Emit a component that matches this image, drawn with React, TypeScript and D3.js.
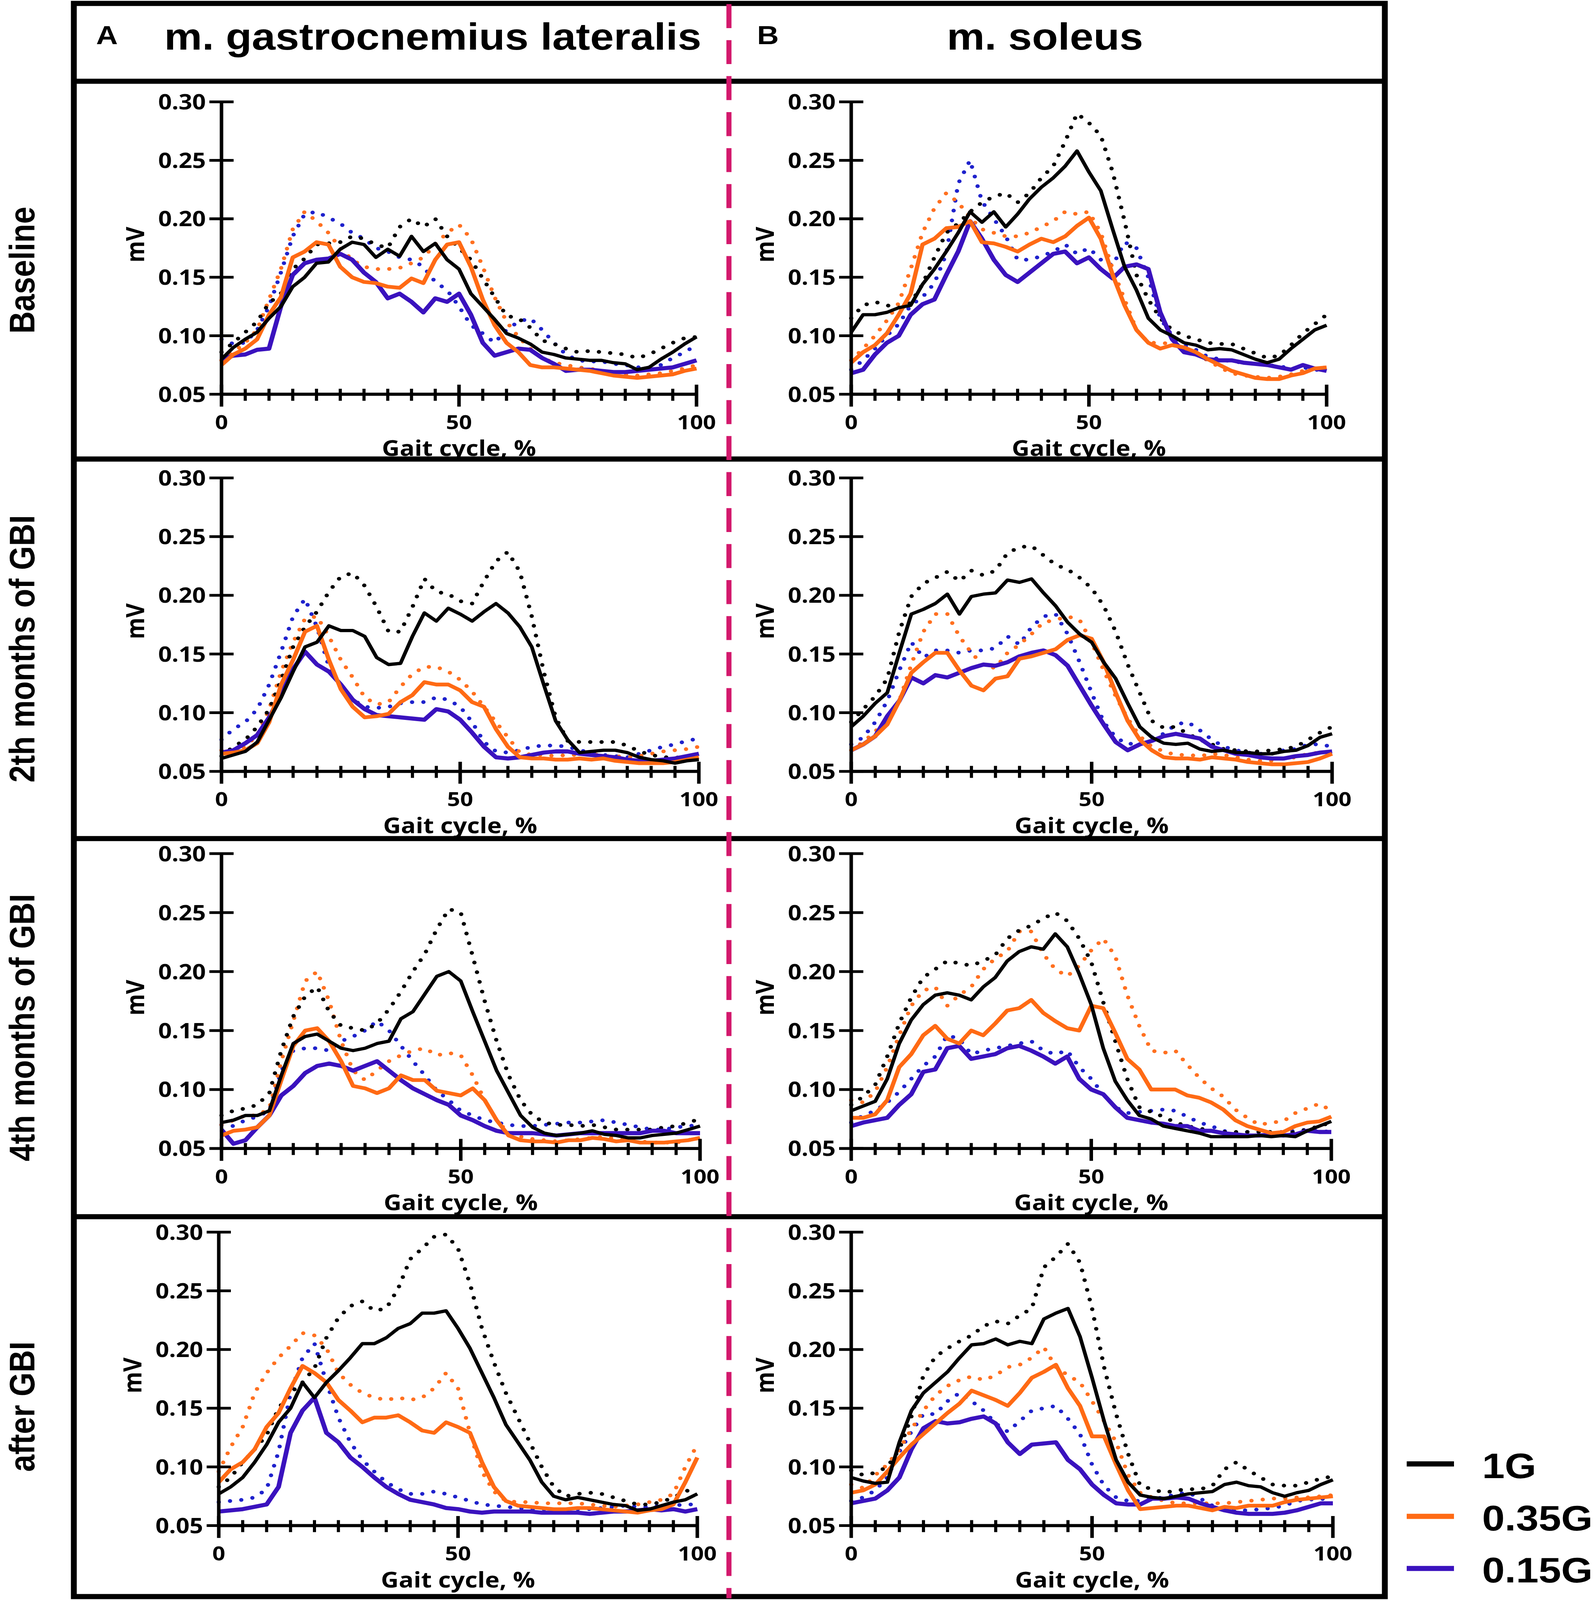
import React from "react";
import * as d3 from "d3";

// ---------- axis / label content ----------
const gaitPct = [0, 2.5, 5, 7.5, 10, 12.5, 15, 17.5, 20, 22.5, 25, 27.5, 30, 32.5, 35, 37.5, 40, 42.5, 45, 47.5, 50, 52.5, 55, 57.5, 60, 62.5, 65, 67.5, 70, 72.5, 75, 77.5, 80, 82.5, 85, 87.5, 90, 92.5, 95, 97.5, 100];
const yTickValues = [0.05, 0.1, 0.15, 0.2, 0.25, 0.3];
const xMinorTicks = [5, 10, 15, 20, 25, 30, 35, 40, 45, 55, 60, 65, 70, 75, 80, 85, 90, 95];
const xMajorTicks = [0, 50, 100];
const rowLabels = ["Baseline", "2th months of GBI", "4th months of GBI", "after GBI"];
const muscleTitles = ["m. gastrocnemius lateralis", "m. soleus"];
const panelLetters = ["A", "B"];
const legendLabels = ["1G", "0.35G", "0.15G"];

// ---------- data: m. gastrocnemius lateralis ----------
const gasBase1G = [0.080,0.090,0.097,0.103,0.115,0.125,0.142,0.150,0.162,0.163,0.174,0.180,0.178,0.167,0.174,0.168,0.185,0.172,0.179,0.165,0.157,0.136,0.125,0.114,0.102,0.098,0.093,0.086,0.084,0.081,0.080,0.079,0.079,0.077,0.076,0.071,0.073,0.080,0.086,0.093,0.099];
const gasBase1GDot = [0.086,0.094,0.103,0.112,0.128,0.136,0.157,0.166,0.178,0.179,0.180,0.185,0.183,0.178,0.175,0.193,0.200,0.193,0.200,0.185,0.175,0.165,0.149,0.133,0.117,0.115,0.107,0.096,0.093,0.089,0.086,0.087,0.086,0.085,0.084,0.081,0.084,0.089,0.094,0.098,0.099];
const gasBase035 = [0.075,0.084,0.089,0.097,0.118,0.133,0.167,0.172,0.180,0.178,0.159,0.150,0.146,0.145,0.142,0.141,0.149,0.145,0.165,0.178,0.180,0.159,0.131,0.109,0.094,0.086,0.075,0.073,0.073,0.072,0.071,0.070,0.068,0.066,0.065,0.064,0.065,0.066,0.067,0.070,0.072];
const gasBase035Dot = [0.079,0.086,0.094,0.105,0.131,0.157,0.191,0.206,0.198,0.188,0.175,0.165,0.159,0.157,0.157,0.158,0.162,0.167,0.178,0.188,0.195,0.183,0.159,0.133,0.112,0.099,0.089,0.081,0.077,0.075,0.073,0.072,0.070,0.068,0.067,0.066,0.067,0.068,0.070,0.072,0.075];
const gasBase015 = [0.080,0.083,0.084,0.088,0.089,0.125,0.152,0.162,0.165,0.166,0.170,0.165,0.154,0.146,0.132,0.136,0.129,0.120,0.132,0.129,0.136,0.118,0.094,0.083,0.086,0.089,0.088,0.081,0.076,0.070,0.071,0.071,0.070,0.069,0.069,0.070,0.071,0.072,0.073,0.076,0.079];
const gasBase015Dot = [0.097,0.093,0.094,0.105,0.125,0.154,0.185,0.204,0.206,0.201,0.196,0.188,0.183,0.175,0.172,0.167,0.165,0.159,0.146,0.139,0.125,0.109,0.102,0.094,0.105,0.112,0.115,0.105,0.094,0.084,0.079,0.078,0.078,0.076,0.075,0.073,0.073,0.075,0.081,0.086,0.092];

const gas2m1G = [0.061,0.064,0.067,0.075,0.094,0.113,0.135,0.156,0.160,0.174,0.170,0.170,0.165,0.147,0.141,0.142,0.165,0.185,0.178,0.189,0.184,0.178,0.186,0.193,0.185,0.173,0.156,0.124,0.093,0.077,0.066,0.067,0.068,0.068,0.066,0.062,0.060,0.059,0.057,0.059,0.060];
const gas2m1GDot = [0.063,0.071,0.077,0.088,0.103,0.128,0.156,0.173,0.186,0.203,0.216,0.219,0.208,0.190,0.169,0.169,0.190,0.214,0.203,0.201,0.195,0.193,0.212,0.229,0.237,0.220,0.182,0.135,0.096,0.076,0.075,0.075,0.075,0.075,0.072,0.067,0.064,0.062,0.062,0.061,0.060];
const gas2m035 = [0.065,0.066,0.068,0.074,0.092,0.124,0.145,0.169,0.174,0.145,0.120,0.105,0.096,0.097,0.099,0.109,0.115,0.126,0.124,0.124,0.119,0.109,0.105,0.086,0.071,0.062,0.061,0.061,0.060,0.060,0.061,0.060,0.061,0.059,0.058,0.057,0.057,0.057,0.058,0.060,0.062];
const gas2m035Dot = [0.068,0.068,0.071,0.081,0.103,0.135,0.160,0.180,0.182,0.165,0.145,0.130,0.113,0.107,0.109,0.122,0.133,0.139,0.139,0.135,0.128,0.118,0.105,0.092,0.079,0.066,0.064,0.064,0.063,0.064,0.064,0.065,0.063,0.063,0.062,0.063,0.065,0.067,0.068,0.069,0.071];
const gas2m015 = [0.066,0.068,0.074,0.081,0.096,0.115,0.137,0.152,0.141,0.135,0.124,0.111,0.103,0.098,0.097,0.096,0.095,0.094,0.103,0.101,0.094,0.083,0.071,0.062,0.061,0.062,0.064,0.066,0.067,0.067,0.065,0.064,0.063,0.062,0.060,0.059,0.059,0.060,0.061,0.063,0.065];
const gas2m015Dot = [0.077,0.086,0.092,0.103,0.124,0.152,0.182,0.197,0.173,0.139,0.122,0.111,0.105,0.104,0.105,0.108,0.109,0.109,0.113,0.111,0.105,0.092,0.075,0.067,0.066,0.068,0.071,0.072,0.072,0.071,0.068,0.066,0.064,0.063,0.062,0.065,0.068,0.071,0.073,0.076,0.078];

const gas4m1G = [0.072,0.074,0.078,0.078,0.082,0.112,0.139,0.145,0.147,0.141,0.135,0.133,0.135,0.139,0.141,0.160,0.166,0.181,0.196,0.200,0.192,0.166,0.141,0.116,0.097,0.078,0.068,0.063,0.061,0.062,0.063,0.065,0.062,0.061,0.059,0.059,0.061,0.062,0.063,0.066,0.069];
const gas4m1GDot = [0.078,0.082,0.084,0.087,0.097,0.133,0.162,0.179,0.187,0.166,0.154,0.152,0.150,0.156,0.168,0.183,0.200,0.215,0.236,0.253,0.250,0.213,0.175,0.141,0.112,0.091,0.078,0.072,0.070,0.070,0.069,0.070,0.068,0.066,0.066,0.066,0.066,0.068,0.069,0.072,0.075];
const gas4m035 = [0.061,0.065,0.066,0.068,0.078,0.108,0.137,0.150,0.152,0.141,0.124,0.103,0.101,0.097,0.101,0.112,0.108,0.108,0.099,0.097,0.095,0.101,0.091,0.074,0.061,0.057,0.056,0.056,0.055,0.057,0.057,0.059,0.058,0.056,0.057,0.055,0.055,0.055,0.056,0.057,0.059];
const gas4m035Dot = [0.070,0.074,0.078,0.078,0.084,0.124,0.158,0.192,0.200,0.175,0.141,0.116,0.108,0.116,0.124,0.129,0.133,0.135,0.129,0.131,0.129,0.112,0.091,0.074,0.063,0.060,0.058,0.057,0.056,0.057,0.058,0.059,0.060,0.058,0.057,0.056,0.055,0.055,0.055,0.057,0.059];
const gas4m015 = [0.066,0.054,0.057,0.068,0.078,0.095,0.103,0.114,0.120,0.122,0.120,0.116,0.120,0.124,0.116,0.108,0.101,0.096,0.091,0.087,0.078,0.074,0.069,0.065,0.063,0.063,0.063,0.062,0.061,0.062,0.063,0.063,0.063,0.063,0.063,0.063,0.065,0.065,0.063,0.063,0.063];
const gas4m015Dot = [0.070,0.069,0.074,0.077,0.082,0.116,0.133,0.135,0.135,0.133,0.141,0.145,0.150,0.158,0.150,0.137,0.124,0.112,0.099,0.091,0.082,0.078,0.074,0.072,0.070,0.069,0.069,0.070,0.071,0.072,0.072,0.073,0.074,0.072,0.070,0.068,0.066,0.066,0.068,0.069,0.070];

const gasAft1G = [0.077,0.083,0.091,0.104,0.119,0.138,0.150,0.172,0.159,0.172,0.182,0.193,0.205,0.205,0.210,0.218,0.222,0.231,0.231,0.233,0.218,0.201,0.180,0.159,0.136,0.121,0.106,0.087,0.075,0.072,0.074,0.072,0.070,0.068,0.067,0.063,0.064,0.067,0.070,0.072,0.077];
const gasAft1GDot = [0.083,0.091,0.104,0.115,0.127,0.150,0.163,0.172,0.184,0.210,0.227,0.237,0.241,0.233,0.235,0.252,0.277,0.286,0.296,0.298,0.286,0.256,0.218,0.189,0.163,0.142,0.121,0.100,0.083,0.075,0.077,0.078,0.077,0.074,0.071,0.068,0.068,0.070,0.074,0.079,0.083];
const gasAft035 = [0.087,0.098,0.104,0.115,0.134,0.146,0.167,0.186,0.180,0.172,0.157,0.148,0.138,0.142,0.142,0.144,0.138,0.131,0.129,0.138,0.134,0.129,0.104,0.083,0.071,0.067,0.066,0.065,0.064,0.064,0.065,0.065,0.064,0.063,0.062,0.061,0.063,0.064,0.068,0.087,0.108];
const gasAft035Dot = [0.096,0.117,0.134,0.163,0.180,0.193,0.203,0.214,0.212,0.201,0.180,0.170,0.163,0.159,0.157,0.159,0.157,0.159,0.167,0.180,0.167,0.129,0.096,0.079,0.071,0.070,0.070,0.069,0.069,0.069,0.069,0.068,0.067,0.066,0.067,0.068,0.070,0.072,0.077,0.100,0.119];
const gasAft015 = [0.062,0.063,0.064,0.066,0.068,0.083,0.129,0.148,0.159,0.129,0.121,0.108,0.100,0.091,0.083,0.077,0.072,0.070,0.068,0.065,0.064,0.062,0.061,0.062,0.062,0.062,0.062,0.061,0.061,0.061,0.061,0.060,0.061,0.062,0.062,0.063,0.064,0.063,0.064,0.062,0.064];
const gasAft015Dot = [0.070,0.071,0.072,0.074,0.081,0.113,0.163,0.193,0.205,0.172,0.142,0.121,0.106,0.096,0.087,0.081,0.077,0.077,0.079,0.077,0.074,0.071,0.068,0.067,0.066,0.065,0.064,0.064,0.063,0.063,0.064,0.064,0.065,0.066,0.067,0.066,0.066,0.067,0.067,0.068,0.068];

// ---------- data: m. soleus ----------
const solBase1G = [0.103,0.118,0.118,0.120,0.124,0.126,0.144,0.157,0.172,0.188,0.206,0.197,0.206,0.193,0.204,0.217,0.227,0.235,0.245,0.258,0.240,0.224,0.191,0.159,0.139,0.115,0.105,0.100,0.094,0.092,0.088,0.089,0.088,0.084,0.080,0.077,0.080,0.089,0.097,0.105,0.109];
const solBase1GDot = [0.115,0.126,0.129,0.126,0.124,0.128,0.144,0.167,0.188,0.196,0.206,0.214,0.219,0.222,0.214,0.222,0.235,0.245,0.266,0.290,0.282,0.271,0.240,0.198,0.152,0.131,0.115,0.105,0.100,0.097,0.094,0.093,0.093,0.089,0.085,0.081,0.083,0.092,0.102,0.110,0.118];
const solBase035 = [0.077,0.086,0.092,0.102,0.118,0.136,0.178,0.183,0.192,0.193,0.198,0.180,0.179,0.176,0.172,0.178,0.183,0.180,0.185,0.194,0.201,0.183,0.152,0.126,0.105,0.094,0.089,0.092,0.090,0.086,0.080,0.075,0.070,0.067,0.064,0.063,0.063,0.066,0.068,0.072,0.073];
const solBase035Dot = [0.079,0.089,0.100,0.113,0.128,0.157,0.188,0.209,0.222,0.214,0.201,0.191,0.188,0.185,0.185,0.188,0.193,0.198,0.206,0.204,0.206,0.188,0.157,0.131,0.105,0.094,0.094,0.093,0.089,0.084,0.079,0.073,0.068,0.066,0.065,0.064,0.065,0.067,0.070,0.072,0.073];
const solBase015 = [0.068,0.071,0.084,0.094,0.100,0.118,0.127,0.131,0.152,0.172,0.198,0.183,0.165,0.152,0.146,0.154,0.162,0.170,0.172,0.162,0.167,0.157,0.149,0.159,0.161,0.157,0.120,0.097,0.086,0.084,0.080,0.079,0.079,0.077,0.076,0.075,0.073,0.071,0.075,0.072,0.070];
const solBase015Dot = [0.071,0.079,0.089,0.100,0.110,0.126,0.133,0.145,0.170,0.230,0.250,0.215,0.200,0.185,0.165,0.165,0.168,0.172,0.178,0.170,0.175,0.165,0.160,0.180,0.175,0.150,0.115,0.100,0.092,0.088,0.082,0.080,0.078,0.077,0.076,0.075,0.074,0.072,0.073,0.071,0.070];

const sol2m1G = [0.088,0.097,0.108,0.117,0.151,0.184,0.188,0.193,0.201,0.184,0.199,0.201,0.202,0.213,0.211,0.214,0.202,0.191,0.177,0.167,0.160,0.143,0.129,0.108,0.088,0.079,0.074,0.073,0.074,0.069,0.067,0.068,0.066,0.066,0.065,0.065,0.067,0.068,0.072,0.079,0.082];
const sol2m1GDot = [0.092,0.103,0.114,0.129,0.169,0.199,0.210,0.215,0.220,0.212,0.221,0.217,0.221,0.236,0.241,0.242,0.234,0.226,0.222,0.215,0.206,0.191,0.169,0.141,0.117,0.093,0.087,0.088,0.082,0.077,0.073,0.069,0.068,0.067,0.067,0.068,0.069,0.071,0.077,0.083,0.088];
const sol2m035 = [0.068,0.073,0.080,0.090,0.110,0.134,0.143,0.151,0.151,0.136,0.123,0.119,0.129,0.131,0.146,0.148,0.151,0.154,0.162,0.166,0.163,0.143,0.117,0.093,0.077,0.068,0.062,0.061,0.061,0.060,0.062,0.061,0.060,0.058,0.057,0.056,0.056,0.057,0.058,0.061,0.065];
const sol2m035Dot = [0.068,0.075,0.084,0.095,0.110,0.141,0.169,0.184,0.184,0.165,0.151,0.140,0.138,0.151,0.158,0.167,0.177,0.179,0.182,0.179,0.160,0.136,0.114,0.095,0.080,0.071,0.067,0.064,0.064,0.063,0.065,0.064,0.062,0.060,0.059,0.059,0.061,0.062,0.065,0.066,0.066];
const sol2m015 = [0.068,0.073,0.080,0.097,0.110,0.130,0.125,0.132,0.130,0.134,0.138,0.141,0.140,0.143,0.148,0.151,0.153,0.149,0.140,0.123,0.106,0.090,0.075,0.068,0.073,0.076,0.080,0.082,0.080,0.078,0.071,0.068,0.065,0.064,0.062,0.061,0.061,0.063,0.064,0.066,0.067];
const sol2m015Dot = [0.073,0.079,0.092,0.110,0.136,0.160,0.147,0.153,0.153,0.151,0.153,0.153,0.155,0.165,0.158,0.173,0.182,0.184,0.167,0.143,0.117,0.092,0.079,0.073,0.075,0.079,0.082,0.090,0.092,0.085,0.077,0.071,0.068,0.066,0.065,0.065,0.068,0.069,0.073,0.073,0.071];

const sol4m1G = [0.082,0.086,0.090,0.109,0.139,0.159,0.172,0.180,0.182,0.180,0.176,0.187,0.195,0.209,0.217,0.221,0.219,0.232,0.221,0.198,0.172,0.135,0.107,0.091,0.078,0.075,0.069,0.067,0.065,0.063,0.060,0.060,0.060,0.060,0.061,0.060,0.061,0.060,0.065,0.069,0.073];
const sol4m1GDot = [0.087,0.094,0.104,0.128,0.156,0.178,0.195,0.202,0.209,0.207,0.205,0.209,0.214,0.228,0.235,0.239,0.245,0.250,0.243,0.228,0.208,0.174,0.141,0.109,0.085,0.081,0.077,0.072,0.069,0.067,0.065,0.064,0.064,0.064,0.064,0.064,0.063,0.064,0.066,0.069,0.072];
const sol4m035 = [0.076,0.076,0.079,0.091,0.119,0.130,0.146,0.154,0.143,0.139,0.150,0.146,0.156,0.167,0.169,0.176,0.165,0.158,0.152,0.150,0.171,0.169,0.148,0.126,0.117,0.100,0.100,0.100,0.095,0.093,0.089,0.083,0.074,0.069,0.066,0.063,0.064,0.069,0.072,0.073,0.077];
const sol4m035Dot = [0.091,0.089,0.098,0.119,0.146,0.171,0.184,0.187,0.171,0.180,0.187,0.202,0.211,0.217,0.234,0.234,0.215,0.202,0.196,0.205,0.218,0.228,0.213,0.180,0.154,0.133,0.131,0.133,0.121,0.110,0.101,0.094,0.083,0.076,0.070,0.072,0.073,0.080,0.084,0.088,0.082];
const sol4m015 = [0.069,0.072,0.074,0.076,0.087,0.096,0.115,0.117,0.135,0.137,0.126,0.128,0.130,0.135,0.137,0.133,0.128,0.122,0.128,0.109,0.100,0.096,0.085,0.076,0.074,0.072,0.071,0.069,0.069,0.065,0.065,0.063,0.062,0.061,0.061,0.062,0.061,0.062,0.065,0.064,0.064];
const sol4m015Dot = [0.072,0.078,0.082,0.089,0.098,0.109,0.120,0.128,0.146,0.143,0.130,0.133,0.135,0.137,0.139,0.141,0.133,0.130,0.133,0.119,0.109,0.096,0.085,0.080,0.081,0.082,0.083,0.082,0.077,0.072,0.069,0.065,0.063,0.064,0.064,0.064,0.064,0.065,0.066,0.065,0.064];

const solAft1G = [0.091,0.088,0.086,0.087,0.121,0.148,0.163,0.172,0.181,0.193,0.204,0.205,0.209,0.204,0.207,0.205,0.226,0.231,0.235,0.211,0.176,0.139,0.106,0.087,0.076,0.074,0.073,0.075,0.077,0.078,0.079,0.085,0.087,0.084,0.083,0.078,0.075,0.078,0.080,0.085,0.089];
const solAft1GDot = [0.097,0.093,0.095,0.100,0.115,0.143,0.178,0.194,0.201,0.207,0.212,0.220,0.224,0.222,0.229,0.235,0.270,0.279,0.290,0.274,0.235,0.185,0.145,0.111,0.084,0.081,0.078,0.080,0.081,0.081,0.084,0.098,0.104,0.097,0.091,0.085,0.084,0.084,0.087,0.090,0.092];
const solAft035 = [0.078,0.080,0.085,0.096,0.108,0.119,0.128,0.137,0.146,0.154,0.165,0.161,0.157,0.152,0.163,0.176,0.181,0.187,0.167,0.152,0.126,0.126,0.102,0.080,0.064,0.065,0.066,0.067,0.067,0.065,0.063,0.066,0.065,0.067,0.067,0.067,0.070,0.072,0.073,0.074,0.075];
const solAft035Dot = [0.085,0.082,0.093,0.102,0.115,0.132,0.148,0.161,0.169,0.174,0.177,0.174,0.178,0.185,0.187,0.193,0.202,0.185,0.178,0.172,0.156,0.139,0.121,0.093,0.078,0.074,0.071,0.069,0.069,0.069,0.069,0.069,0.070,0.071,0.072,0.073,0.073,0.074,0.074,0.075,0.076];
const solAft015 = [0.069,0.071,0.073,0.080,0.091,0.115,0.133,0.139,0.137,0.138,0.141,0.143,0.137,0.121,0.111,0.119,0.120,0.121,0.106,0.098,0.085,0.076,0.069,0.068,0.068,0.073,0.073,0.074,0.073,0.069,0.066,0.063,0.061,0.060,0.060,0.060,0.061,0.063,0.066,0.069,0.069];
const solAft015Dot = [0.071,0.074,0.080,0.091,0.113,0.130,0.145,0.145,0.156,0.163,0.156,0.148,0.137,0.130,0.139,0.148,0.150,0.152,0.141,0.128,0.102,0.084,0.074,0.071,0.071,0.073,0.074,0.077,0.078,0.073,0.067,0.065,0.063,0.063,0.064,0.065,0.067,0.071,0.072,0.073,0.071];

// ---------- panels (per row: [gastrocnemius, soleus]) ----------
type Group = { g1: number[]; g1d: number[]; g035: number[]; g035d: number[]; g015: number[]; g015d: number[] };
const panelData: Group[][] = [
  [
    { g1: gasBase1G, g1d: gasBase1GDot, g035: gasBase035, g035d: gasBase035Dot, g015: gasBase015, g015d: gasBase015Dot },
    { g1: solBase1G, g1d: solBase1GDot, g035: solBase035, g035d: solBase035Dot, g015: solBase015, g015d: solBase015Dot },
  ],
  [
    { g1: gas2m1G, g1d: gas2m1GDot, g035: gas2m035, g035d: gas2m035Dot, g015: gas2m015, g015d: gas2m015Dot },
    { g1: sol2m1G, g1d: sol2m1GDot, g035: sol2m035, g035d: sol2m035Dot, g015: sol2m015, g015d: sol2m015Dot },
  ],
  [
    { g1: gas4m1G, g1d: gas4m1GDot, g035: gas4m035, g035d: gas4m035Dot, g015: gas4m015, g015d: gas4m015Dot },
    { g1: sol4m1G, g1d: sol4m1GDot, g035: sol4m035, g035d: sol4m035Dot, g015: sol4m015, g015d: sol4m015Dot },
  ],
  [
    { g1: gasAft1G, g1d: gasAft1GDot, g035: gasAft035, g035d: gasAft035Dot, g015: gasAft015, g015d: gasAft015Dot },
    { g1: solAft1G, g1d: solAft1GDot, g035: solAft035, g035d: solAft035Dot, g015: solAft015, g015d: solAft015Dot },
  ],
];

// ---------- layout (pixels, in the 4083 x 4667 reference frame) ----------
const W = 4083;
const H = 4667;
const BOX = { x0: 189, x1: 3545, y0: 10, y1: 4657 };
const HEADER_BOTTOM = 237;
const rowBounds = [237, 1339, 2446, 3549, 4657];
const rowYTop = [297, 1394, 2490, 3594];
const rowYBot = [1150, 2250, 3350, 4450];
const colXRange = [
  [[567, 1783], [2179, 3396]],
  [[567, 1789], [2179, 3410]],
  [[567, 1792], [2179, 3408]],
  [[560, 1785], [2179, 3412]],
];
const DIVIDER_X = 1866;

const BLACK = "#000000";
const ORANGE = "#FF6A14";
const BLUE = "#3A12BE";
const BLUE_DOT = "#1F22CC";
const ORANGE_DOT = "#FF7020";
const MAGENTA = "#D3186C";

const AXIS_FONT = "'Open Sans', 'Liberation Sans', Arial, sans-serif";
const TITLE_FONT = "'Liberation Sans', Arial, Helvetica, sans-serif";

function Panel({ x0, x1, yTop, yBot, data }: { x0: number; x1: number; yTop: number; yBot: number; data: Group }) {
  const x = d3.scaleLinear().domain([0, 100]).range([x0, x1]);
  const y = d3.scaleLinear().domain([0.05, 0.3]).range([yBot, yTop]);
  const line = d3
    .line<number>()
    .x((_, i) => x(gaitPct[i]))
    .y((d) => y(d));

  const dotted = [
    { v: data.g015d, c: BLUE_DOT },
    { v: data.g035d, c: ORANGE_DOT },
    { v: data.g1d, c: BLACK },
  ];
  const solid = [
    { v: data.g015, c: BLUE, w: 12 },
    { v: data.g035, c: ORANGE, w: 11 },
    { v: data.g1, c: BLACK, w: 9.5 },
  ];

  return (
    <g>
      {dotted.map((s, i) => (
        <path
          key={"d" + i}
          d={line(s.v) || ""}
          fill="none"
          stroke={s.c}
          strokeWidth={11}
          strokeLinecap="round"
          strokeDasharray="0 29"
        />
      ))}
      {solid.map((s, i) => (
        <path
          key={"s" + i}
          d={line(s.v) || ""}
          fill="none"
          stroke={s.c}
          strokeWidth={s.w}
          strokeLinejoin="round"
        />
      ))}
      {/* y axis */}
      <line x1={x0} x2={x0} y1={yTop} y2={yBot} stroke="#000" strokeWidth={9} />
      {yTickValues.map((t) => (
        <g key={"yt" + t}>
          <line x1={x0 - 31} x2={x0 + 31} y1={y(t)} y2={y(t)} stroke="#000" strokeWidth={8} />
          <text
            x={x0 - 40}
            y={y(t) + 22}
            textAnchor="end"
            fontFamily={AXIS_FONT}
            fontWeight={700}
            fontSize={61}
          >
            {d3.format(".2f")(t)}
          </text>
        </g>
      ))}
      {/* x axis */}
      <line x1={x0} x2={x1} y1={yBot} y2={yBot} stroke="#000" strokeWidth={9} />
      {xMinorTicks.map((t) => (
        <line key={"xm" + t} x1={x(t)} x2={x(t)} y1={yBot - 16} y2={yBot + 19} stroke="#000" strokeWidth={8} />
      ))}
      {xMajorTicks.map((t) => (
        <g key={"xM" + t}>
          <line x1={x(t)} x2={x(t)} y1={yBot - 28} y2={yBot + 36} stroke="#000" strokeWidth={9} />
          <text
            x={x(t)}
            y={yBot + 102}
            textAnchor="middle"
            fontFamily={AXIS_FONT}
            fontWeight={700}
            fontSize={58}
          >
            {t}
          </text>
        </g>
      ))}
      <text
        x={(x0 + x1) / 2}
        y={yBot + 180}
        textAnchor="middle"
        fontFamily={AXIS_FONT}
        fontWeight={700}
        fontSize={63}
      >
        Gait cycle, %
      </text>
      <text
        transform={`translate(${x0 - 198},${(yTop + yBot) / 2 - 10}) rotate(-90)`}
        textAnchor="middle"
        fontFamily={AXIS_FONT}
        fontWeight={700}
        fontSize={64}
      >
        mV
      </text>
    </g>
  );
}

export default function App() {
  const legendColors = [BLACK, ORANGE, BLUE];
  const legendY = [4270, 4423, 4575];
  return (
    <>
      <style>{"html,body{margin:0;padding:0;overflow:hidden;background:#fff}#root{margin:0;padding:0}"}</style>
      <svg
        viewBox={`0 0 ${W} ${H}`}
        preserveAspectRatio="none"
        style={{ display: "block", width: "100vw", height: "100vh", background: "#fff" }}
      >
        <rect x={0} y={0} width={W} height={H} fill="#fff" />

        {/* panels */}
        {panelData.map((row, r) =>
          row.map((grp, c) => (
            <Panel
              key={`p${r}${c}`}
              x0={colXRange[r][c][0]}
              x1={colXRange[r][c][1]}
              yTop={rowYTop[r]}
              yBot={rowYBot[r]}
              data={grp}
            />
          ))
        )}

        {/* frame */}
        <rect
          x={BOX.x0}
          y={BOX.y0}
          width={BOX.x1 - BOX.x0}
          height={BOX.y1 - BOX.y0}
          fill="none"
          stroke="#000"
          strokeWidth={15}
        />
        <line x1={BOX.x0} x2={BOX.x1} y1={HEADER_BOTTOM} y2={HEADER_BOTTOM} stroke="#000" strokeWidth={15} />
        {rowBounds.slice(1, 4).map((yy) => (
          <line key={"rb" + yy} x1={BOX.x0} x2={BOX.x1} y1={yy} y2={yy} stroke="#000" strokeWidth={15} />
        ))}

        {/* header */}
        <text x={246} y={129} fontFamily={TITLE_FONT} fontWeight={700} fontSize={77}>
          {panelLetters[0]}
        </text>
        <text x={1938} y={129} fontFamily={TITLE_FONT} fontWeight={700} fontSize={77}>
          {panelLetters[1]}
        </text>
        <text x={1108} y={145} textAnchor="middle" fontFamily={TITLE_FONT} fontWeight={700} fontSize={109}>
          {muscleTitles[0]}
        </text>
        <text x={2675} y={145} textAnchor="middle" fontFamily={TITLE_FONT} fontWeight={700} fontSize={109}>
          {muscleTitles[1]}
        </text>

        {/* row labels */}
        {rowLabels.map((lab, i) => (
          <text
            key={lab}
            transform={`translate(88,${(rowBounds[i] + rowBounds[i + 1]) / 2}) rotate(-90)`}
            textAnchor="middle"
            fontFamily={TITLE_FONT}
            fontWeight={700}
            fontSize={90}
          >
            {lab}
          </text>
        ))}

        {/* magenta divider */}
        <line
          x1={DIVIDER_X}
          x2={DIVIDER_X}
          y1={12}
          y2={4662}
          stroke={MAGENTA}
          strokeWidth={13}
          strokeDasharray="70 35"
        />

        {/* legend */}
        {legendLabels.map((lab, i) => (
          <g key={lab}>
            <line x1={3601} x2={3722} y1={legendY[i]} y2={legendY[i]} stroke={legendColors[i]} strokeWidth={15} />
            <text x={3794} y={legendY[i] + 41} fontFamily={TITLE_FONT} fontWeight={700} fontSize={104}>
              {lab}
            </text>
          </g>
        ))}
      </svg>
    </>
  );
}
